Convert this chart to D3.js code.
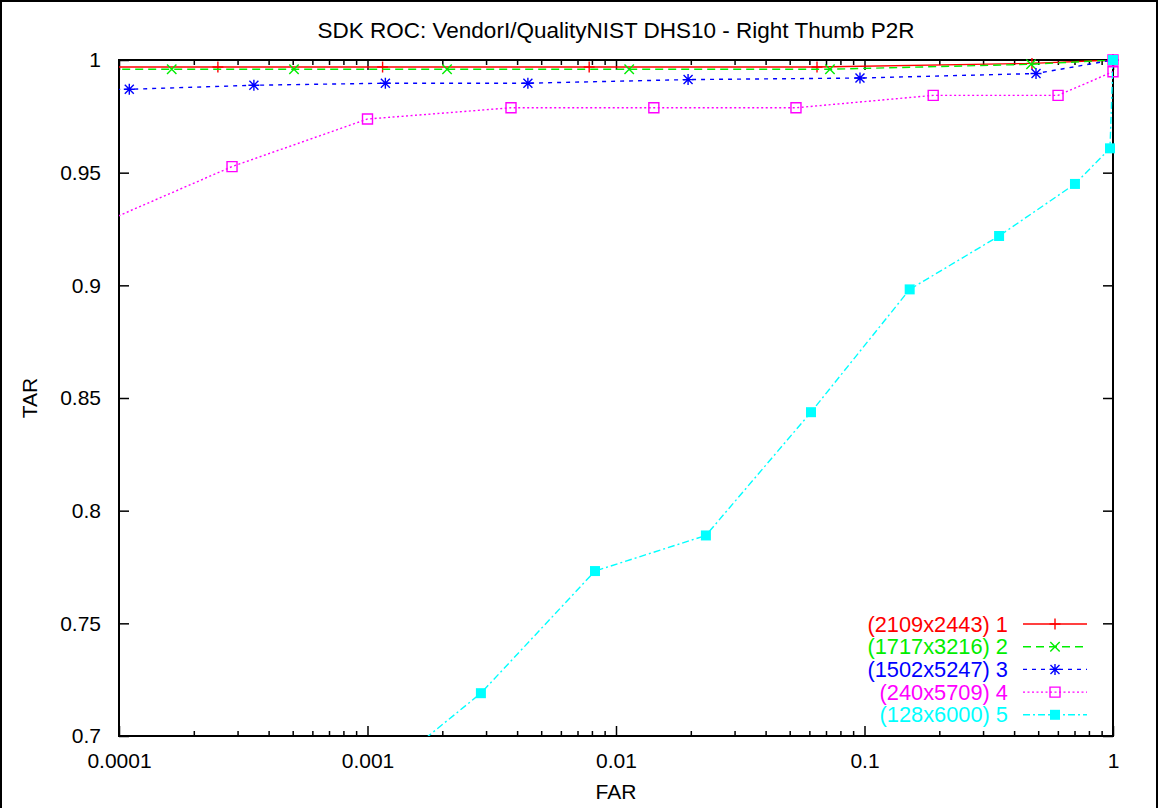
<!DOCTYPE html>
<html>
<head>
<meta charset="utf-8">
<script src="https://cdn.jsdelivr.net/npm/d3@7"></script>
<style>
  body { margin: 0; background: #fff; }
  text { font-family: "Liberation Sans", Arial, sans-serif; font-size: 21px; }
</style>
</head>
<body>
<div id="my_dataviz"></div>
<script>
// values (x is FAR on a log axis, y is TAR)
// points below FAR=0.0001 are only there so the lines run in from the left edge
const far1 = [0.00005, 0.00025, 0.00115, 0.0078, 0.0644, 0.472, 1];
const tar1 = [0.9969, 0.9969, 0.9969, 0.9969, 0.9969, 0.9985, 1];

const far2 = [0.00005, 0.000163, 0.000506, 0.00209, 0.0113, 0.0726, 0.468, 1];
const tar2 = [0.9959, 0.9959, 0.9959, 0.9959, 0.9959, 0.9959, 0.9981, 1];

const far3 = [0.00005, 0.00011, 0.000349, 0.00118, 0.00442, 0.0195, 0.0959, 0.49, 1];
const tar3 = [0.9866, 0.9870, 0.9888, 0.9897, 0.9897, 0.9913, 0.9920, 0.9940, 1];

const far4 = [0.00005, 0.000285, 0.001, 0.00378, 0.0142, 0.053, 0.189, 0.601, 1, 1];
const tar4 = [0.9165, 0.9527, 0.9738, 0.9788, 0.9788, 0.9788, 0.9843, 0.9843, 0.9948, 1];

const far5 = [0.001, 0.00286, 0.00823, 0.023, 0.0609, 0.152, 0.348, 0.703, 0.9725, 1];
const tar5 = [0.678, 0.7190, 0.7732, 0.7890, 0.8437, 0.8982, 0.9219, 0.9450, 0.9608, 1];

const seriesNames = ["(2109x2443) 1", "(1717x3216) 2", "(1502x5247) 3", "(240x5709) 4", "(128x6000) 5"];
const seriesColors = ["#ff0000", "#00ee00", "#0000ff", "#ff00ff", "#00ffff"];
const seriesDash = ["none", "8,5", "4,5", "2,2.5", "7,3,2,3"];
const seriesMarks = ["plus", "cross", "star", "box", "fbox"];

const xTicks = [0.0001, 0.001, 0.01, 0.1, 1];
const xTickLabels = ["0.0001", "0.001", "0.01", "0.1", "1"];
const yTicks = [0.7, 0.75, 0.8, 0.85, 0.9, 0.95, 1];
const yTickLabels = ["0.7", "0.75", "0.8", "0.85", "0.9", "0.95", "1"];

const series = [
  [far1, tar1], [far2, tar2], [far3, tar3], [far4, tar4], [far5, tar5]
].map((s, i) => ({
  name: seriesNames[i],
  color: seriesColors[i],
  dash: seriesDash[i],
  mark: seriesMarks[i],
  points: s[0].map((f, j) => ({far: f, tar: s[1][j]}))
}));

const margin = {top: 60, right: 46, bottom: 72, left: 119},
  width = 1159 - margin.left - margin.right,
  height = 808 - margin.top - margin.bottom;

const root = d3.select("#my_dataviz")
  .append("svg")
    .attr("width", 1159)
    .attr("height", 808);

// outer frame of the picture
root.append("rect")
  .attr("x", 1).attr("y", 1)
  .attr("width", 1156).attr("height", 820)
  .attr("fill", "none").attr("stroke", "#000").attr("stroke-width", 2);

const svg = root.append("g")
  .attr("transform", `translate(${margin.left},${margin.top})`);

const x = d3.scaleLog().domain([0.0001, 1]).range([0, width]);
const y = d3.scaleLinear().domain([0.7, 1]).range([height, 0]);

svg.append("clipPath").attr("id", "plotclip")
  .append("rect").attr("width", width).attr("height", height);

// minor ticks for the log axis
const minor = [];
for (let e = -4; e < 0; e++) {
  for (let k = 2; k <= 9; k++) minor.push(k * Math.pow(10, e));
}

function styleAxis(g) {
  g.select(".domain").remove();
  g.selectAll("line").attr("stroke", "#000").attr("stroke-width", 1.5);
  g.selectAll("text").attr("fill", "#000").style("font-size", "21px")
    .style("font-family", '"Liberation Sans", Arial, sans-serif');
}

svg.append("g")
  .attr("transform", `translate(0,${height})`)
  .call(d3.axisBottom(x).tickValues(xTicks).tickSize(-10).tickPadding(17)
    .tickFormat((d, i) => xTickLabels[i]))
  .call(styleAxis);
svg.append("g")
  .attr("transform", `translate(0,${height})`)
  .call(d3.axisBottom(x).tickValues(minor).tickSize(-5).tickFormat(""))
  .call(styleAxis);
svg.append("g")
  .call(d3.axisTop(x).tickValues(xTicks).tickSize(-10).tickFormat(""))
  .call(styleAxis);
svg.append("g")
  .call(d3.axisTop(x).tickValues(minor).tickSize(-5).tickFormat(""))
  .call(styleAxis);
svg.append("g")
  .call(d3.axisLeft(y).tickValues(yTicks).tickSize(-10).tickPadding(18)
    .tickFormat((d, i) => yTickLabels[i]))
  .call(styleAxis);
svg.append("g")
  .attr("transform", `translate(${width},0)`)
  .call(d3.axisRight(y).tickValues(yTicks).tickSize(-10).tickFormat(""))
  .call(styleAxis);

svg.append("rect")
  .attr("width", width).attr("height", height)
  .attr("fill", "none").attr("stroke", "#000").attr("stroke-width", 2);

// titles
root.append("text")
  .attr("x", margin.left + width / 2).attr("y", 38)
  .attr("text-anchor", "middle")
  .style("font-size", "22.5px")
  .text("SDK ROC: VendorI/QualityNIST DHS10 - Right Thumb P2R");
root.append("text")
  .attr("x", margin.left + width / 2).attr("y", 799)
  .attr("text-anchor", "middle")
  .text("FAR");
root.append("text")
  .attr("transform", `translate(37,${margin.top + height / 2}) rotate(-90)`)
  .attr("text-anchor", "middle")
  .text("TAR");

function markPath(type) {
  if (type === "plus") return "M-5.5,0H5.5M0,-5.5V5.5";
  if (type === "cross") return "M-4.7,-4.7L4.7,4.7M-4.7,4.7L4.7,-4.7";
  if (type === "star") return "M-5.5,0H5.5M0,-5.5V5.5M-4.5,-4.5L4.5,4.5M-4.5,4.5L4.5,-4.5";
  return "M-5,-5H5V5H-5Z";
}

const line = d3.line().x(d => x(d.far)).y(d => y(d.tar));

const legendX = 1008 - margin.left, legendY = 624 - margin.top, legendStep = 22.7;

series.forEach(function(s, i) {
  const g = svg.append("g");
  g.append("path")
    .datum(s.points)
    .attr("clip-path", "url(#plotclip)")
    .attr("d", line)
    .attr("fill", "none")
    .attr("stroke", s.color)
    .attr("stroke-width", 1.4)
    .attr("stroke-dasharray", s.dash);

  const filled = s.mark === "fbox";
  g.selectAll(".mark")
    .data(s.points.filter(d => d.far >= 0.0001 && d.tar >= 0.7))
    .join("path")
      .attr("class", "mark")
      .attr("transform", d => `translate(${x(d.far)},${y(d.tar)})`)
      .attr("d", markPath(s.mark))
      .attr("fill", filled ? s.color : "none")
      .attr("stroke", s.color)
      .attr("stroke-width", filled ? 0 : 1.4);

  // legend entry
  const ly = legendY + i * legendStep;
  g.append("text")
    .attr("x", legendX).attr("y", ly)
    .attr("dy", "0.35em")
    .attr("text-anchor", "end")
    .attr("fill", s.color)
    .style("font-size", "21.8px")
    .text(s.name);
  g.append("line")
    .attr("x1", legendX + 15).attr("x2", legendX + 79)
    .attr("y1", ly).attr("y2", ly)
    .attr("stroke", s.color)
    .attr("stroke-width", 1.4)
    .attr("stroke-dasharray", s.dash);
  g.append("path")
    .attr("transform", `translate(${legendX + 47},${ly})`)
    .attr("d", markPath(s.mark))
    .attr("fill", filled ? s.color : "none")
    .attr("stroke", s.color)
    .attr("stroke-width", filled ? 0 : 1.4);
});
</script>
</body>
</html>
